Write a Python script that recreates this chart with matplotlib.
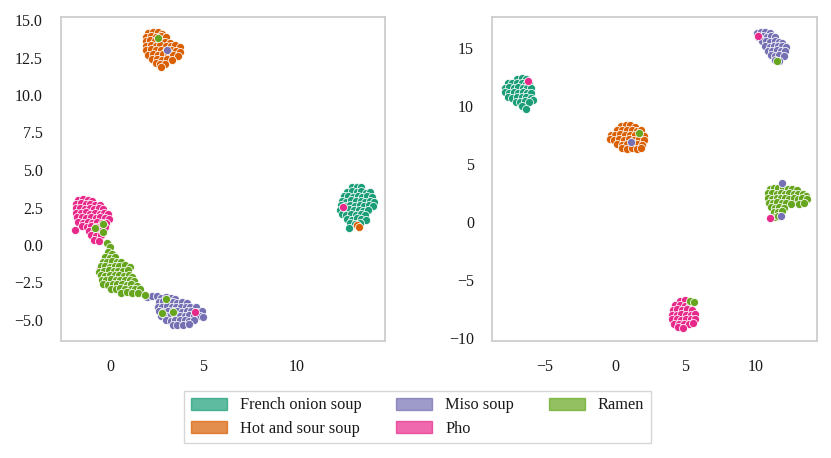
import matplotlib
matplotlib.use("Agg")
import matplotlib.pyplot as plt
from matplotlib.patches import Patch

plt.rcParams['font.family'] = ['Liberation Serif', 'DejaVu Serif']
plt.rcParams['axes.unicode_minus'] = True

CLASSES = ["French onion soup", "Hot and sour soup", "Miso soup", "Pho", "Ramen"]
COLORS = ["#1b9e77", "#d95f02", "#7570b3", "#e7298a", "#66a61e"]

# ---------------- Left panel: core clusters ----------------
L_FRENCH_X = [12.95, 13.2, 13.45, 12.7, 12.95, 13.2, 13.45, 13.7, 13.9, 12.5, 12.75, 13.0, 13.25, 13.5, 13.75, 14.0,
              12.4, 12.65, 12.9, 13.15, 13.4, 13.65, 13.9, 14.1, 12.35, 12.6, 12.85, 13.1, 13.35, 13.6, 13.85, 14.05,
              12.3, 12.55, 12.8, 13.05, 13.3, 13.55, 13.8, 12.4, 12.65, 12.9, 13.15, 13.4, 13.65,
              12.7, 12.95, 13.2, 13.45, 13.7, 12.85, 13.1, 13.35, 12.8]
L_FRENCH_Y = [3.85, 3.9, 3.88, 3.55, 3.6, 3.52, 3.58, 3.5, 3.55, 3.25, 3.3, 3.22, 3.28, 3.2, 3.25, 3.2,
              2.95, 2.9, 2.98, 2.92, 2.95, 2.9, 2.95, 2.88, 2.65, 2.6, 2.68, 2.62, 2.65, 2.6, 2.66, 2.58,
              2.35, 2.3, 2.38, 2.32, 2.35, 2.3, 2.36, 2.05, 2.0, 2.08, 2.02, 2.05, 1.98,
              1.75, 1.7, 1.78, 1.72, 1.7, 1.45, 1.4, 1.45, 1.12]

L_HOT_X = [2.05, 2.3, 2.55, 2.8, 1.95, 2.2, 2.45, 2.72, 2.98, 1.9, 2.15, 2.42, 2.68, 2.95, 3.2,
           1.92, 2.18, 2.45, 2.7, 2.97, 3.25, 3.5, 3.72, 1.95, 2.2, 2.48, 2.75, 3.0, 3.28, 3.55, 3.75,
           2.05, 2.3, 2.57, 2.83, 3.1, 3.38, 3.62, 2.25, 2.5, 2.78, 3.05, 3.3, 2.45, 2.7, 2.95, 2.75]
L_HOT_Y = [14.15, 14.22, 14.18, 14.1, 13.88, 13.95, 13.9, 13.92, 13.85, 13.6, 13.65, 13.58, 13.62, 13.55, 13.5,
           13.3, 13.35, 13.28, 13.32, 13.25, 13.3, 13.35, 13.22, 12.98, 13.05, 12.97, 13.02, 12.95, 13.0, 12.95, 12.85,
           12.7, 12.72, 12.66, 12.72, 12.65, 12.7, 12.62, 12.4, 12.42, 12.36, 12.42, 12.35, 12.12, 12.05, 12.1, 11.9]

L_MISO_X = [2.0, 2.25, 2.5, 2.75, 3.0, 3.25, 3.5, 2.6, 2.85, 3.1, 3.35, 3.6, 3.85, 4.1,
            2.55, 2.8, 3.05, 3.3, 3.55, 3.8, 4.05, 4.3, 4.6, 2.6, 2.85, 3.1, 3.35, 3.6, 3.85, 4.1, 4.35, 4.65, 4.9,
            2.75, 3.0, 3.25, 3.5, 3.75, 4.0, 4.25, 4.5, 4.8, 5.0, 3.0, 3.25, 3.5, 3.75, 4.0, 4.25, 4.5,
            3.35, 3.6, 3.9, 4.2]
L_MISO_Y = [-3.45, -3.4, -3.42, -3.5, -3.45, -3.55, -3.6, -3.8, -3.75, -3.82, -3.78, -3.85, -3.8, -3.88,
            -4.1, -4.15, -4.08, -4.12, -4.1, -4.15, -4.1, -4.12, -4.15, -4.4, -4.45, -4.38, -4.42, -4.4, -4.45, -4.38, -4.42, -4.45, -4.4,
            -4.7, -4.75, -4.68, -4.72, -4.7, -4.75, -4.68, -4.72, -4.7, -4.78, -5.0, -5.05, -4.98, -5.02, -5.0, -5.05, -5.0,
            -5.3, -5.35, -5.3, -5.25]

L_PHO_X = [-1.7, -1.45, -1.2, -0.95, -1.8, -1.55, -1.3, -1.05, -0.8, -0.55,
           -1.82, -1.58, -1.33, -1.08, -0.83, -0.58, -0.35, -1.8, -1.55, -1.3, -1.05, -0.8, -0.55, -0.3, -0.12,
           -1.78, -1.52, -1.27, -1.02, -0.77, -0.52, -0.27, -0.05, -1.7, -1.45, -1.2, -0.95, -0.7, -0.45, -0.2,
           -1.5, -1.25, -1.0, -0.75, -0.5, -0.25, -1.85, -1.1, -0.85, -0.6, -1.0, -0.75, -0.5, -0.85, -0.6, -0.53]
L_PHO_Y = [3.0, 3.05, 2.98, 2.95, 2.75, 2.78, 2.72, 2.76, 2.7, 2.68,
           2.45, 2.5, 2.42, 2.48, 2.4, 2.45, 2.38, 2.15, 2.12, 2.18, 2.1, 2.16, 2.1, 2.15, 2.05,
           1.85, 1.88, 1.82, 1.86, 1.8, 1.85, 1.8, 1.75, 1.55, 1.5, 1.56, 1.5, 1.55, 1.48, 1.5,
           1.25, 1.2, 1.28, 1.22, 1.25, 1.2, 1.0, 0.95, 0.9, 0.95, 0.65, 0.6, 0.68, 0.35, 0.3, -1.6]

L_RAMEN_X = [-0.15, 0.0, -0.1, 0.1, -0.25, 0.0, 0.25, -0.4, -0.15, 0.1, 0.35, 0.6,
             -0.5, -0.25, 0.0, 0.25, 0.5, 0.8, 1.05, -0.6, -0.3, -0.05, 0.2, 0.45, 0.7, 0.95,
             -0.5, -0.25, 0.0, 0.25, 0.5, 0.75, 1.0, 1.2, -0.45, -0.2, 0.05, 0.3, 0.55, 0.8, 1.05, 1.3,
             -0.35, -0.1, 0.15, 0.4, 0.65, 0.9, 1.15, 1.45, 0.05, 0.3, 0.55, 0.8, 1.1, 1.35, 1.6,
             0.6, 0.9, 1.2, 1.5, 1.85]
L_RAMEN_Y = [0.15, -0.15, -0.45, -0.6, -0.8, -0.85, -0.8, -1.1, -1.15, -1.05, -1.1, -1.15,
             -1.4, -1.38, -1.45, -1.4, -1.42, -1.35, -1.45, -1.8, -1.72, -1.68, -1.75, -1.7, -1.72, -1.68,
             -2.0, -2.05, -1.98, -2.02, -2.0, -2.05, -1.98, -2.1, -2.3, -2.35, -2.28, -2.32, -2.3, -2.35, -2.3, -2.4,
             -2.6, -2.65, -2.58, -2.62, -2.6, -2.65, -2.6, -2.7, -2.9, -2.95, -2.88, -2.92, -2.9, -2.95, -2.9,
             -3.2, -3.15, -3.2, -3.22, -3.3]

# Left panel: isolated points drawn on top (class index, x, y)
L_OUT_CLASS = [4, 2, 4, 4, 4, 4, 4, 4, 3, 3, 1, 1]
L_OUT_X = [2.57, 3.05, -0.8, -0.39, -0.36, 2.99, 2.8, 3.39, 4.55, 12.48, 13.23, 13.33]
L_OUT_Y = [13.8, 13.0, 1.13, 1.38, 0.89, -3.6, -4.56, -4.49, -4.49, 2.51, 1.33, 1.18]

# ---------------- Right panel: core clusters ----------------
R_FRENCH_X = [-6.95, -6.6, -6.35, -7.6, -7.3, -6.98, -6.65, -6.35, -6.1,
              -7.85, -7.55, -7.22, -6.9, -6.58, -6.28, -6.0, -7.85, -7.52, -7.2, -6.88, -6.55, -6.25, -5.95,
              -7.6, -7.3, -6.98, -6.65, -6.32, -6.0, -5.82, -7.05, -6.75, -6.42, -6.1, -6.6, -6.3]
R_FRENCH_Y = [12.3, 12.38, 12.28, 11.95, 12.0, 11.92, 11.98, 11.9, 11.95,
              11.55, 11.6, 11.52, 11.58, 11.5, 11.56, 11.5, 11.15, 11.1, 11.18, 11.12, 11.15, 11.1, 11.12,
              10.75, 10.7, 10.78, 10.72, 10.75, 10.7, 10.5, 10.35, 10.3, 10.38, 10.3, 9.95, 9.75]

R_HOT_X = [0.4, 0.75, 1.1, 1.4, 0.15, 0.5, 0.85, 1.2, 1.55, 1.85,
           -0.3, 0.0, 0.35, 0.7, 1.05, 1.4, 1.75, 2.05, -0.35, -0.05, 0.3, 0.65, 1.0, 1.35, 1.7, 2.05,
           0.15, 0.5, 0.85, 1.2, 1.55, 1.9, 0.5, 0.85, 1.2, 1.55, 1.85]
R_HOT_Y = [8.25, 8.35, 8.3, 8.2, 7.9, 7.95, 7.88, 7.92, 7.85, 7.9,
           7.45, 7.5, 7.55, 7.48, 7.52, 7.45, 7.5, 7.4, 7.15, 7.08, 7.12, 7.05, 7.1, 7.08, 7.12, 7.05,
           6.7, 6.65, 6.72, 6.68, 6.7, 6.62, 6.35, 6.3, 6.38, 6.3, 6.32]

R_MISO_X = [10.1, 10.4, 10.7, 11.0, 10.2, 10.5, 10.8, 11.1, 11.4, 10.45, 10.75, 11.05, 11.35, 11.65, 11.9,
            10.7, 11.0, 11.3, 11.6, 11.9, 12.15, 10.9, 11.2, 11.5, 11.8, 12.1, 11.1, 11.4, 11.7, 12.0, 11.4, 11.7]
R_MISO_Y = [16.3, 16.4, 16.35, 16.3, 15.95, 16.0, 15.92, 15.98, 15.9, 15.55, 15.6, 15.52, 15.58, 15.5, 15.45,
            15.15, 15.1, 15.18, 15.12, 15.15, 15.05, 14.75, 14.7, 14.78, 14.72, 14.7, 14.35, 14.3, 14.38, 14.3, 13.95, 13.9]

R_PHO_X = [4.6, 4.95, 4.3, 4.62, 4.95, 5.3, 4.1, 4.42, 4.75, 5.1, 5.45, 4.05, 4.38, 4.7, 5.05, 5.4, 5.7,
           4.05, 4.38, 4.7, 5.05, 5.4, 5.7, 4.2, 4.55, 4.9, 5.25, 5.55, 4.5, 4.85]
R_PHO_Y = [-6.85, -6.75, -7.2, -7.15, -7.22, -7.15, -7.6, -7.55, -7.62, -7.55, -7.6, -8.0, -8.05, -7.98, -8.02, -8.0, -7.95,
           -8.4, -8.38, -8.45, -8.4, -8.42, -8.35, -8.8, -8.85, -8.78, -8.82, -8.75, -9.1, -9.15]

R_RAMEN_X = [11.0, 11.3, 11.6, 11.95, 12.3, 12.6, 12.95, 10.9, 11.2, 11.5, 11.8, 12.1, 12.4, 12.7, 13.0, 13.35, 13.6,
             10.9, 11.2, 11.5, 11.8, 12.1, 12.4, 12.7, 13.0, 13.3, 13.65, 10.95, 11.25, 11.55, 11.85, 12.15, 12.5, 13.1, 13.45,
             11.1, 11.4, 11.7, 12.0, 11.3, 11.6, 11.9, 11.35, 11.6]
R_RAMEN_Y = [2.8, 2.88, 2.95, 2.9, 2.85, 2.8, 2.7, 2.45, 2.5, 2.42, 2.48, 2.4, 2.45, 2.38, 2.42, 2.35, 2.25,
             2.05, 2.0, 2.08, 2.02, 2.05, 1.98, 2.05, 1.98, 2.02, 1.95, 1.65, 1.6, 1.68, 1.62, 1.65, 1.55, 1.55, 1.6,
             1.25, 1.2, 1.28, 1.2, 0.85, 0.8, 0.9, 0.45, 0.5]

# Right panel: isolated points drawn on top (class index, x, y)
R_OUT_CLASS = [3, 4, 2, 3, 4, 2, 3, 2, 4, 4]
R_OUT_X = [-6.21, 1.71, 1.11, 10.15, 11.54, 11.9, 11.04, 11.8, 5.33, 5.62]
R_OUT_Y = [12.16, 7.67, 6.84, 16.01, 13.85, 3.31, 0.34, 0.52, -6.84, -6.95]

LEFT_YTICKS = [-5.0, -2.5, 0.0, 2.5, 5.0, 7.5, 10.0, 12.5, 15.0]
LEFT_XTICKS = [0, 5, 10]
RIGHT_YTICKS = [-10, -5, 0, 5, 10, 15]
RIGHT_XTICKS = [-5, 0, 5, 10]

LEFT_CORE = [(L_FRENCH_X, L_FRENCH_Y), (L_HOT_X, L_HOT_Y), (L_MISO_X, L_MISO_Y), (L_PHO_X, L_PHO_Y), (L_RAMEN_X, L_RAMEN_Y)]
RIGHT_CORE = [(R_FRENCH_X, R_FRENCH_Y), (R_HOT_X, R_HOT_Y), (R_MISO_X, R_MISO_Y), (R_PHO_X, R_PHO_Y), (R_RAMEN_X, R_RAMEN_Y)]

fig = plt.figure(figsize=(8.31, 4.58), dpi=100)
ax1 = fig.add_axes([61 / 831, 1 - 341 / 458, 324 / 831, 324 / 458])
ax2 = fig.add_axes([492 / 831, 1 - 341 / 458, 325 / 831, 324 / 458])

S = 34
LW = 0.55


def draw(ax, core, out_c, out_x, out_y):
    for i, (xs, ys) in enumerate(core):
        ax.scatter(xs, ys, s=S, c=COLORS[i], edgecolors="white", linewidths=LW, zorder=2)
    for c, x, y in zip(out_c, out_x, out_y):
        ax.scatter([x], [y], s=S, c=COLORS[c], edgecolors="white", linewidths=LW, zorder=3)
    for sp in ax.spines.values():
        sp.set_color("#cccccc")
        sp.set_linewidth(1.25)
    ax.tick_params(length=0, pad=13, labelsize=11.5, colors="#1a1a1a")
    ax.grid(False)


def fmt(v, nd):
    s = ("%." + str(nd) + "f") % abs(v)
    return ("\u2212" + s) if v < 0 else s


draw(ax1, LEFT_CORE, L_OUT_CLASS, L_OUT_X, L_OUT_Y)
draw(ax2, RIGHT_CORE, R_OUT_CLASS, R_OUT_X, R_OUT_Y)

ax1.set_xlim(-2.62, 14.71)
ax1.set_ylim(-6.4, 15.2)
ax1.set_xticks(LEFT_XTICKS)
ax1.set_yticks(LEFT_YTICKS)
ax1.set_yticklabels([fmt(v, 1) for v in LEFT_YTICKS])

ax2.set_xlim(-8.75, 14.37)
ax2.set_ylim(-10.28, 17.65)
ax2.set_xticks(RIGHT_XTICKS)
ax2.set_xticklabels([fmt(v, 0) for v in RIGHT_XTICKS])
ax2.set_yticks(RIGHT_YTICKS)
ax2.set_yticklabels([fmt(v, 0) for v in RIGHT_YTICKS])

handles = [Patch(facecolor=c, edgecolor=c, alpha=0.7) for c in COLORS]
leg = fig.legend(handles, CLASSES, loc="center", bbox_to_anchor=(0.5024, 0.0895), ncol=3,
                 fontsize=11.8, frameon=True, fancybox=False, handlelength=2.2, handleheight=0.75,
                 handletextpad=0.8, columnspacing=2.1, borderpad=0.4, labelspacing=0.45)
leg.get_frame().set_edgecolor("#cccccc")
leg.get_frame().set_linewidth(1.0)
for t in leg.get_texts():
    t.set_color("#1a1a1a")

fig.savefig("out.png", dpi=100)
